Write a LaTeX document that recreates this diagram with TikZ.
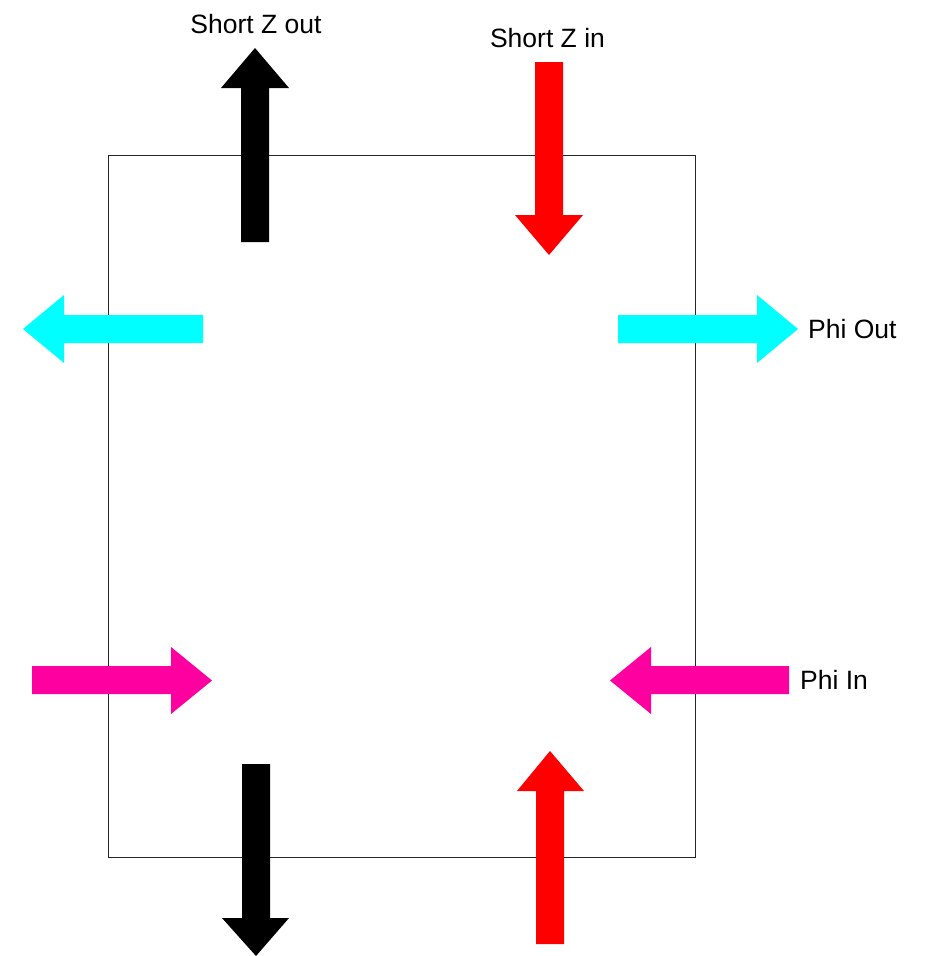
\documentclass[tikz,border=0pt]{standalone}
\usepackage{fontspec}
\setmainfont{Liberation Sans}
\definecolor{zcyan}{HTML}{00FFFF}
\definecolor{zred}{HTML}{FF0000}
\definecolor{zmag}{HTML}{FF00A0}
\begin{document}
\begin{tikzpicture}[x=1pt,y=-1pt,
  lbl/.style={inner sep=0pt,font=\fontsize{26.5}{30}\selectfont},
  blk/.style={fill=black,draw=none},
  frame/.style={draw=black!85,line width=1pt}]
\useasboundingbox (0,0) rectangle (925,956);
% frame
\draw[frame] (108,155) rectangle (695,857);
% black up (top)
\fill[black] (241,242) -- (241,88) -- (221,88) -- (255,48) -- (289,88) -- (269,88) -- (269,242) -- cycle;
% red down (top)
\fill[zred] (535,62) -- (535,215) -- (515,215) -- (549,255) -- (583,215) -- (563,215) -- (563,62) -- cycle;
% cyan left
\fill[zcyan] (203,315) -- (64,315) -- (64,295) -- (23,329) -- (64,363) -- (64,343) -- (203,343) -- cycle;
% cyan right
\fill[zcyan] (618,315) -- (757,315) -- (757,295) -- (798,329) -- (757,363) -- (757,343) -- (618,343) -- cycle;
% magenta right
\fill[zmag] (32,666) -- (171,666) -- (171,647) -- (212,680.5) -- (171,714) -- (171,694) -- (32,694) -- cycle;
% magenta left
\fill[zmag] (789,666) -- (651,666) -- (651,647) -- (610,680.5) -- (651,714) -- (651,694) -- (789,694) -- cycle;
% black down (bottom)
\fill[black] (242,764) -- (242,918) -- (222,918) -- (256,956) -- (289,918) -- (270,918) -- (270,764) -- cycle;
% red up (bottom)
\fill[zred] (536,944) -- (536,791) -- (517,791) -- (550,751) -- (584,791) -- (564,791) -- (564,944) -- cycle;
% labels
\node[lbl,anchor=base] (szout) at (256,33) {Short Z out};
\node[lbl,anchor=base] (szin) at (547.5,47) {Short Z in};
\node[lbl,anchor=base west] (phiout) at (808,338) {Phi Out};
\node[lbl,anchor=base west] (phiin) at (800,689) {Phi In};
\end{tikzpicture}
\end{document}
